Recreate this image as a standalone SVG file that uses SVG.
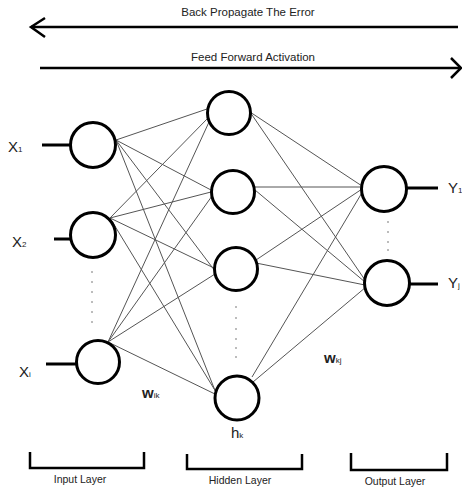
<svg xmlns="http://www.w3.org/2000/svg" width="462" height="489" viewBox="0 0 462 489">
<style>
.node{fill:#fff;stroke:#000;stroke-width:3}
.conn{stroke:#555;stroke-width:1;fill:none}
.io{stroke:#000;stroke-width:3;fill:none}
.arr{stroke:#000;stroke-width:2.5;fill:none}
.br{stroke:#000;stroke-width:2.5;fill:none}
.t{font-family:"Liberation Sans",Arial,sans-serif;fill:#222}
.cap{font-size:11.5px}
.lay{font-size:10.5px}
.var{font-size:15px}
.sub{font-size:8px}
.dot{fill:#666}
</style>
<rect width="462" height="489" fill="#fff"/>
<g id="arrows">
<line class="arr" x1="31" y1="27" x2="458" y2="27"/>
<polyline class="arr" points="45,18 31,27 45,37"/>
<text class="t cap" x="248" y="16" text-anchor="middle">Back Propagate The Error</text>
<line class="arr" x1="40" y1="68" x2="460" y2="68"/>
<polyline class="arr" points="451,58 461,68 451,78"/>
<text class="t cap" x="253" y="61" text-anchor="middle">Feed Forward Activation</text>
</g>
<g id="connectors">
<line class="conn" x1="116" y1="140" x2="207" y2="109"/>
<line class="conn" x1="116" y1="140" x2="211" y2="190"/>
<line class="conn" x1="116" y1="140" x2="215" y2="271"/>
<line class="conn" x1="116" y1="140" x2="216" y2="393"/>
<line class="conn" x1="110" y1="218" x2="208" y2="118"/>
<line class="conn" x1="110" y1="218" x2="211" y2="192"/>
<line class="conn" x1="110" y1="218" x2="214" y2="268"/>
<line class="conn" x1="110" y1="218" x2="216" y2="392"/>
<line class="conn" x1="108" y1="342" x2="209" y2="122"/>
<line class="conn" x1="108" y1="342" x2="212" y2="196"/>
<line class="conn" x1="108" y1="342" x2="215" y2="274"/>
<line class="conn" x1="108" y1="342" x2="217" y2="395"/>
<line class="conn" x1="250" y1="112" x2="362" y2="186"/>
<line class="conn" x1="250" y1="112" x2="365" y2="280"/>
<line class="conn" x1="254" y1="187" x2="362" y2="187"/>
<line class="conn" x1="255" y1="190" x2="365" y2="282"/>
<line class="conn" x1="256" y1="260" x2="362" y2="189"/>
<line class="conn" x1="256" y1="263" x2="365" y2="285"/>
<line class="conn" x1="252" y1="377" x2="363" y2="191"/>
<line class="conn" x1="253" y1="382" x2="366" y2="287"/>
<line class="io" x1="42" y1="145" x2="70" y2="145"/>
<line class="io" x1="54" y1="239" x2="70" y2="239"/>
<line class="io" x1="46" y1="364" x2="77" y2="364"/>
<line class="io" x1="407" y1="188" x2="438" y2="188"/>
<line class="io" x1="410" y1="284" x2="438" y2="284"/>
</g>
<g id="x1"><circle class="node" cx="93" cy="145" r="22.5"/><text class="t var" x="8" y="152">X<tspan class="sub" dy="0">1</tspan></text></g>
<g id="x2"><circle class="node" cx="93" cy="235" r="22.5"/><text class="t var" x="12" y="247">X<tspan class="sub">2</tspan></text></g>
<g id="xi"><circle class="node" cx="98" cy="362" r="21.5"/><text class="t var" x="19" y="377">X<tspan class="sub">i</tspan></text></g>
<g id="h1"><circle class="node" cx="229" cy="113" r="21.5"/></g>
<g id="h2"><circle class="node" cx="233" cy="192" r="21.5"/></g>
<g id="h3"><circle class="node" cx="236" cy="269" r="21.5"/></g>
<g id="hk"><circle class="node" cx="237" cy="398" r="22"/><text class="t var" x="231" y="438">h<tspan class="sub">k</tspan></text></g>
<g id="y1"><circle class="node" cx="384" cy="189" r="22.5"/><text class="t var" x="448" y="193">Y<tspan class="sub">1</tspan></text></g>
<g id="yj"><circle class="node" cx="387" cy="283" r="22.5"/><text class="t var" x="448" y="288">Y<tspan class="sub">j</tspan></text></g>
<g id="weights">
<text class="t var" x="142" y="398" font-weight="bold">w<tspan class="sub" font-weight="normal">ik</tspan></text>
<text class="t var" x="324" y="363" font-weight="bold">w<tspan class="sub" font-weight="normal">kj</tspan></text>
</g>
<g id="dots">
<circle class="dot" cx="92" cy="272" r="0.8"/><circle class="dot" cx="92" cy="282" r="0.8"/><circle class="dot" cx="92" cy="292" r="0.8"/><circle class="dot" cx="92" cy="302" r="0.8"/><circle class="dot" cx="92" cy="312" r="0.8"/><circle class="dot" cx="92" cy="322" r="0.8"/>
<circle class="dot" cx="236" cy="307" r="0.8"/><circle class="dot" cx="236" cy="318" r="0.8"/><circle class="dot" cx="236" cy="329" r="0.8"/><circle class="dot" cx="236" cy="339" r="0.8"/><circle class="dot" cx="236" cy="348" r="0.8"/><circle class="dot" cx="236" cy="357" r="0.8"/>
<circle class="dot" cx="388" cy="222" r="0.8"/><circle class="dot" cx="388" cy="232" r="0.8"/><circle class="dot" cx="388" cy="242" r="0.8"/><circle class="dot" cx="388" cy="250" r="0.8"/>
</g>
<g id="layers">
<polyline class="br" points="30,452 30,468 144,468 144,452"/>
<text class="t lay" x="80" y="483" text-anchor="middle">Input Layer</text>
<polyline class="br" points="187,454 187,469 302,469 302,454"/>
<text class="t lay" x="240" y="484" text-anchor="middle">Hidden Layer</text>
<polyline class="br" points="351,453 351,470 447,470 447,453"/>
<text class="t lay" x="395" y="485" text-anchor="middle">Output Layer</text>
</g>
</svg>
